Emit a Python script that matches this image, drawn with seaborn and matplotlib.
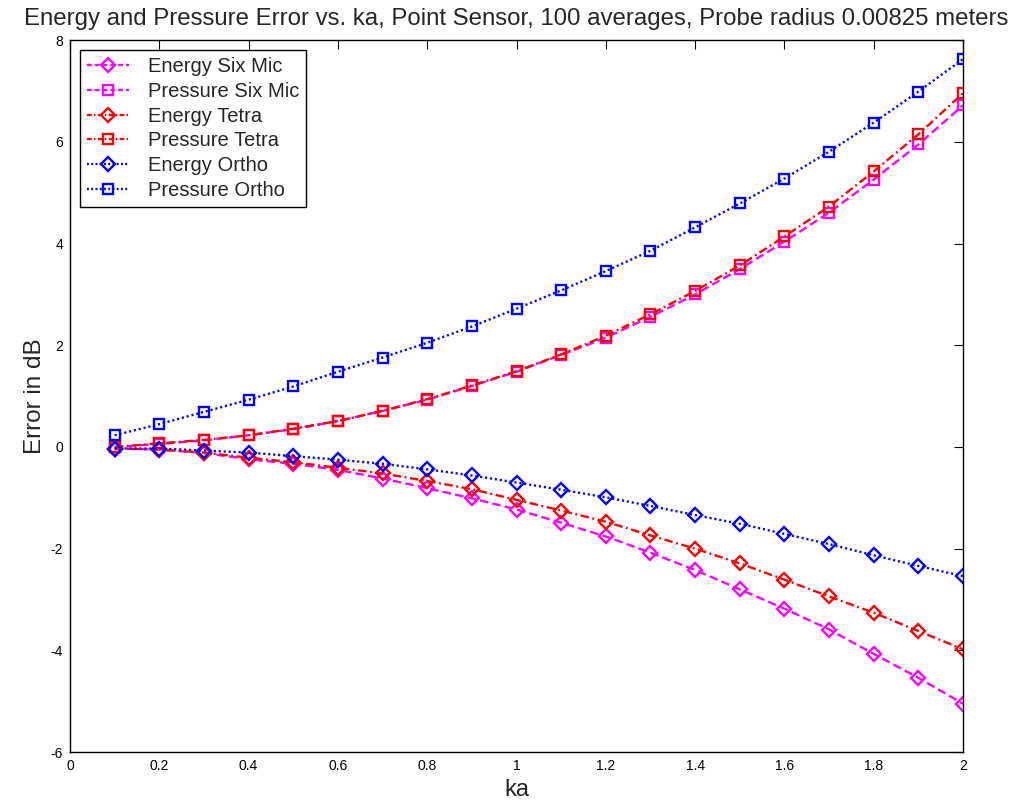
import numpy as np
import pandas as pd
import matplotlib
matplotlib.use("Agg")
import matplotlib.pyplot as plt
from matplotlib.lines import Line2D
import seaborn as sns
from matplotlib.ticker import FormatStrFormatter, MultipleLocator

ka = [0.1, 0.2, 0.3, 0.4, 0.5, 0.6, 0.7, 0.8, 0.9, 1.0,
      1.1, 1.2, 1.3, 1.4, 1.5, 1.6, 1.7, 1.8, 1.9, 2.0]

energy_six = [-0.03, -0.05, -0.12, -0.24, -0.33, -0.45, -0.62, -0.81, -1.01, -1.23,
              -1.49, -1.76, -2.08, -2.42, -2.80, -3.18, -3.59, -4.07, -4.54, -5.05]
pressure_six = [0.0, 0.06, 0.13, 0.23, 0.35, 0.51, 0.71, 0.93, 1.20, 1.48,
                1.81, 2.15, 2.56, 3.00, 3.50, 4.04, 4.61, 5.26, 5.95, 6.72]
energy_tetra = [-0.03, -0.05, -0.11, -0.21, -0.30, -0.41, -0.52, -0.67, -0.83, -1.04,
                -1.25, -1.47, -1.74, -2.00, -2.29, -2.61, -2.94, -3.26, -3.62, -3.98]
pressure_tetra = [0.0, 0.07, 0.14, 0.23, 0.36, 0.51, 0.71, 0.94, 1.21, 1.49,
                  1.82, 2.19, 2.61, 3.07, 3.57, 4.14, 4.73, 5.42, 6.15, 6.96]
energy_ortho = [-0.03, -0.03, -0.07, -0.11, -0.18, -0.25, -0.33, -0.44, -0.56, -0.70,
                -0.84, -0.99, -1.16, -1.34, -1.51, -1.71, -1.91, -2.13, -2.34, -2.54]
pressure_ortho = [0.23, 0.45, 0.69, 0.93, 1.19, 1.48, 1.76, 2.05, 2.37, 2.72,
                  3.08, 3.46, 3.86, 4.32, 4.79, 5.28, 5.81, 6.38, 6.99, 7.63]

series_names = ["Energy Six Mic", "Pressure Six Mic", "Energy Tetra",
                "Pressure Tetra", "Energy Ortho", "Pressure Ortho"]
series_values = [energy_six, pressure_six, energy_tetra,
                 pressure_tetra, energy_ortho, pressure_ortho]
colors = ["#ff00ff", "#ff00ff", "#ff0000", "#ff0000", "#0000ff", "#0000ff"]
linestyles = [(0, (3.6, 1.8)), (0, (3.6, 1.8)),
              (0, (3.6, 1.5, 0.8, 1.5)), (0, (3.6, 1.5, 0.8, 1.5)),
              (0, (0.9, 1.2)), (0, (0.9, 1.2))]
legend_styles = [(0, (2.0, 1.3)), (0, (2.0, 1.3)),
                 (0, (2.0, 1.0, 0.6, 1.0)), (0, (2.0, 1.0, 0.6, 1.0)),
                 (0, (0.8, 1.0)), (0, (0.8, 1.0))]
markers = ["D", "s", "D", "s", "D", "s"]

title = "Energy and Pressure Error vs. ka, Point Sensor, 100 averages, Probe radius 0.00825 meters"
xlabel = "ka"
ylabel = "Error in dB"

sns.set_style("white")
plt.rcParams["font.family"] = ["Liberation Sans", "DejaVu Sans"]

fig = plt.figure(figsize=(10.31, 8.05), dpi=100)
ax = fig.add_axes([0.0679, 0.0658, 0.8662, 0.8842])

handles = []
for name, vals, c, ls, lls, m in zip(series_names, series_values, colors,
                                     linestyles, legend_styles, markers):
    df = pd.DataFrame({"ka": ka, "err": vals})
    ms = 7.5 if m == "s" else 7
    sns.lineplot(data=df, x="ka", y="err", ax=ax, color=c,
                 marker=m, markersize=ms, markerfacecolor="none",
                 markeredgecolor=c, markeredgewidth=1.7, linewidth=1.7,
                 legend=False)
    ax.lines[-1].set_linestyle(ls)
    handles.append(Line2D([], [], color=c, linestyle=lls, linewidth=1.7,
                          marker=m, markersize=ms, markerfacecolor="none",
                          markeredgecolor=c, markeredgewidth=1.7, label=name))

ax.set_xlim(0, 2)
ax.set_ylim(-6, 8)
ax.xaxis.set_major_locator(MultipleLocator(0.2))
ax.yaxis.set_major_locator(MultipleLocator(2))
ax.xaxis.set_major_formatter(FormatStrFormatter("%g"))
ax.yaxis.set_major_formatter(FormatStrFormatter("%g"))
ax.tick_params(direction="in", top=True, right=True, length=6.5, width=0.8,
               labelsize=10, colors="black", pad=5)
for s in ax.spines.values():
    s.set_color("black")
    s.set_linewidth(1.0)

ax.set_title(title, fontsize=17.3, pad=11)
ax.set_xlabel(xlabel, fontsize=17, labelpad=4)
ax.set_ylabel(ylabel, fontsize=17.5, labelpad=3)

leg = ax.legend(handles=handles, loc="upper left", fontsize=14.5, frameon=True,
                fancybox=False, edgecolor="black", framealpha=1, borderpad=0.35,
                labelspacing=0.28, handlelength=2.1, handletextpad=0.9,
                borderaxespad=0.5)
leg.get_frame().set_linewidth(1.0)

fig.savefig("out.png", dpi=100)
